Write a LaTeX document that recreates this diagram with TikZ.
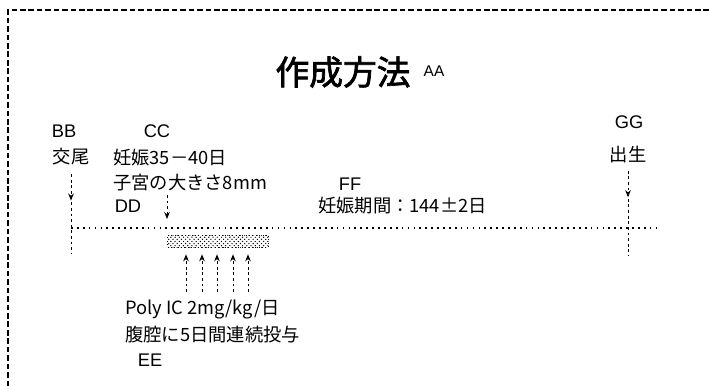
\documentclass[tikz,border=0pt]{standalone}
\usepackage{fontspec}
\setmainfont{Liberation Sans}
\newfontfamily\jp{Noto Sans CJK JP}[AutoFakeBold=2]
\usetikzlibrary{arrows.meta, patterns, decorations.markings}

\begin{document}
\begin{tikzpicture}[x=0.025cm, y=-0.025cm,
    lbl/.style={font=\fontsize{13}{15}\selectfont, inner sep=0pt},
    jtxt/.style={font=\jp\fontsize{13}{15}\selectfont, inner sep=0pt},
    vline/.style={line width=0.7pt, dash pattern=on 2pt off 2pt},
    tline/.style={line width=0.8pt, dash pattern=on 1.2pt off 3pt},
    arr/.style={-{Stealth[length=5pt, width=4pt]}},
    midarr/.style={postaction={decorate}, decoration={markings,
        mark=at position #1 with {\arrow{Stealth[length=5pt, width=4pt]}}}}]
    \useasboundingbox (0,0) rectangle (709,387);

    % frame
    \draw[line width=0.9pt, dash pattern=on 4pt off 2pt] (709,10) -- (8,10) -- (8,387);

    % Title
    \node[font=\jp\bfseries\fontsize{24}{28}\selectfont, inner sep=0pt] (title) at (343,72) {作成方法};
    \node[font=\fontsize{11}{13}\selectfont, inner sep=0pt] (aa) at (434,71) {AA};

    % events
    \node[lbl] (bb) at (64,131) {BB};
    \node[jtxt] (kobi) at (71,157) {交尾};
    \node[lbl] (cc) at (157,131) {CC};
    \node[jtxt, anchor=west] (ninshin) at (113,158) {妊娠35－40日};
    \node[jtxt, anchor=west] (shikyu) at (113,183) {子宮の大きさ8mm};
    \node[lbl] (dd) at (128,206) {DD};
    \node[lbl] (ff) at (350,184) {FF};
    \node[jtxt, anchor=west] (kikan) at (318,206) {妊娠期間：144±2日};
    \node[lbl] (gg) at (629,122) {GG};
    \node[jtxt] (shussei) at (628,155) {出生};

    % timeline
    \coordinate (t0) at (71,228);
    \coordinate (t1) at (661,228);
    \draw[tline] (t0) -- (t1);

    % dosing block
    \node[draw, dotted, pattern=crosshatch dots, minimum width=2.52cm, minimum height=0.3cm, inner sep=0pt] (dose) at (218,241) {};

    % event arrows
    \coordinate (bbend) at (71,254);
    \draw[vline, midarr=0.33] ([yshift=-6pt]kobi.south) -- (bbend);
    \coordinate (ggend) at (628,256);
    \draw[vline, midarr=0.31] ([yshift=-5pt]shussei.south) -- (ggend);
    \coordinate (cctop) at (167,195);
    \coordinate (ccend) at (167,219);
    \draw[vline, arr] (cctop) -- (ccend);

    % injections
    \foreach \x [count=\i] in {186,202,217,233,248} {
        \coordinate (u\i) at (\x,292);
        \draw[vline, arr, shorten >=5pt] (u\i) -- (u\i |- dose.south);
    }
    \node[jtxt, anchor=west] (poly) at (125,310) {Poly IC 2mg/kg/日};
    \node[jtxt, anchor=west] (fukuku) at (125,335) {腹腔に5日間連続投与};
    \node[lbl] (ee) at (150,360) {EE};
\end{tikzpicture}
\end{document}
